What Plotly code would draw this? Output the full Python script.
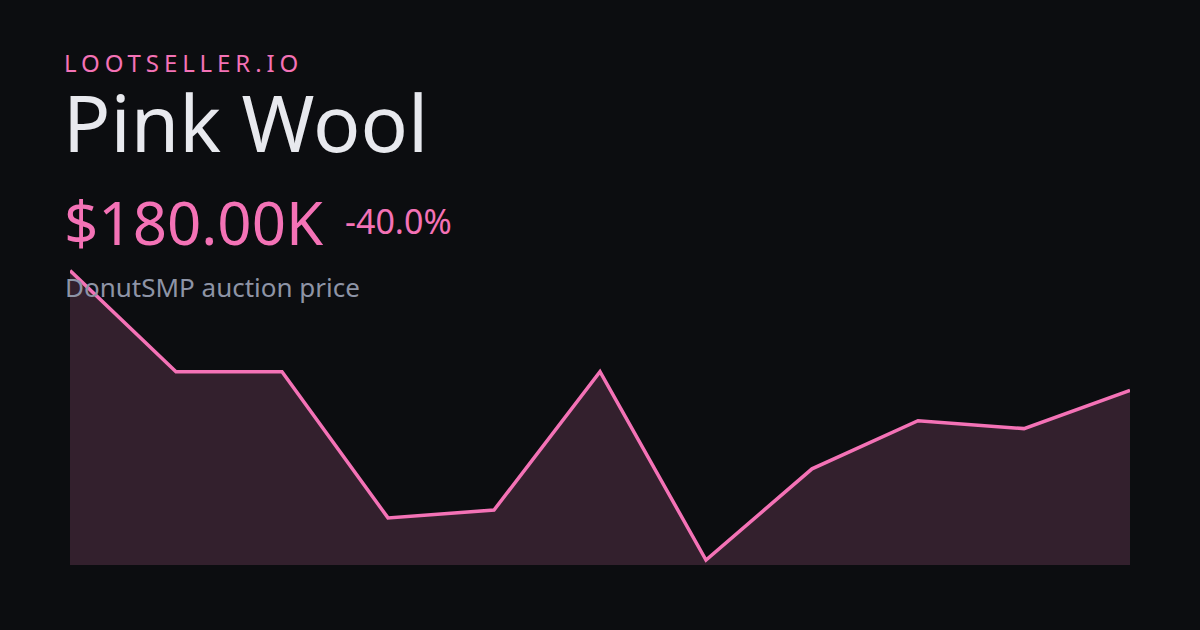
import plotly.graph_objects as go

# Data (thousands of $)
periods = list(range(11))
prices_k = [300, 197, 197, 48, 56, 197, 5, 98, 147, 139, 178]

brand = "LOOTSELLER.IO"
item_name = "Pink Wool"
price_label = "$180.00K"
change_label = "-40.0%"
subtitle = "DonutSMP auction price"

BG = "#0c0d10"
PINK = "#f472b6"
FILL = "#33202d"
WHITE = "#e8e9ee"
GREY = "#8e94a6"
FONT = "Noto Sans"

# plot area in pixels
L, R, TOP, BOT = 70, 1130, 251, 565
W, H = 1200, 630


def px(x):
    return (x - L) / (R - L)


def py(y):
    return (BOT - y) / (BOT - TOP)


fig = go.Figure()
fig.add_trace(go.Scatter(
    x=periods, y=prices_k, mode="lines",
    line=dict(color=PINK, width=3.5),
    fill="tozeroy", fillcolor=FILL,
    hoverinfo="skip", cliponaxis=False,
))

annos = [
    (f'<span style="letter-spacing:4.9px">{brand}</span>', 62, 62, 24, PINK),
    (item_name, 61, 121, 78.5, WHITE),
    (price_label, 62, 222, 60, PINK),
    (change_label, 343, 221, 34, PINK),
    (subtitle, 63, 287, 26, GREY),
]
for text, x, y, size, color in annos:
    fig.add_annotation(
        text=text, x=px(x), y=py(y), xref="paper", yref="paper",
        xanchor="left", yanchor="middle", showarrow=False,
        font=dict(family=FONT, size=size, color=color),
    )

fig.update_layout(
    width=W, height=H,
    paper_bgcolor=BG, plot_bgcolor=BG,
    margin=dict(l=L, r=W - R, t=TOP, b=H - BOT, pad=0),
    showlegend=False,
    xaxis=dict(range=[0, 10], visible=False, showgrid=False, zeroline=False),
    yaxis=dict(range=[0, 320], visible=False, showgrid=False, zeroline=False),
)

fig.write_html(
    "out.html",
    config={"displayModeBar": False},
    post_script="document.body.style.margin='0';document.body.style.background='%s';" % BG,
)
